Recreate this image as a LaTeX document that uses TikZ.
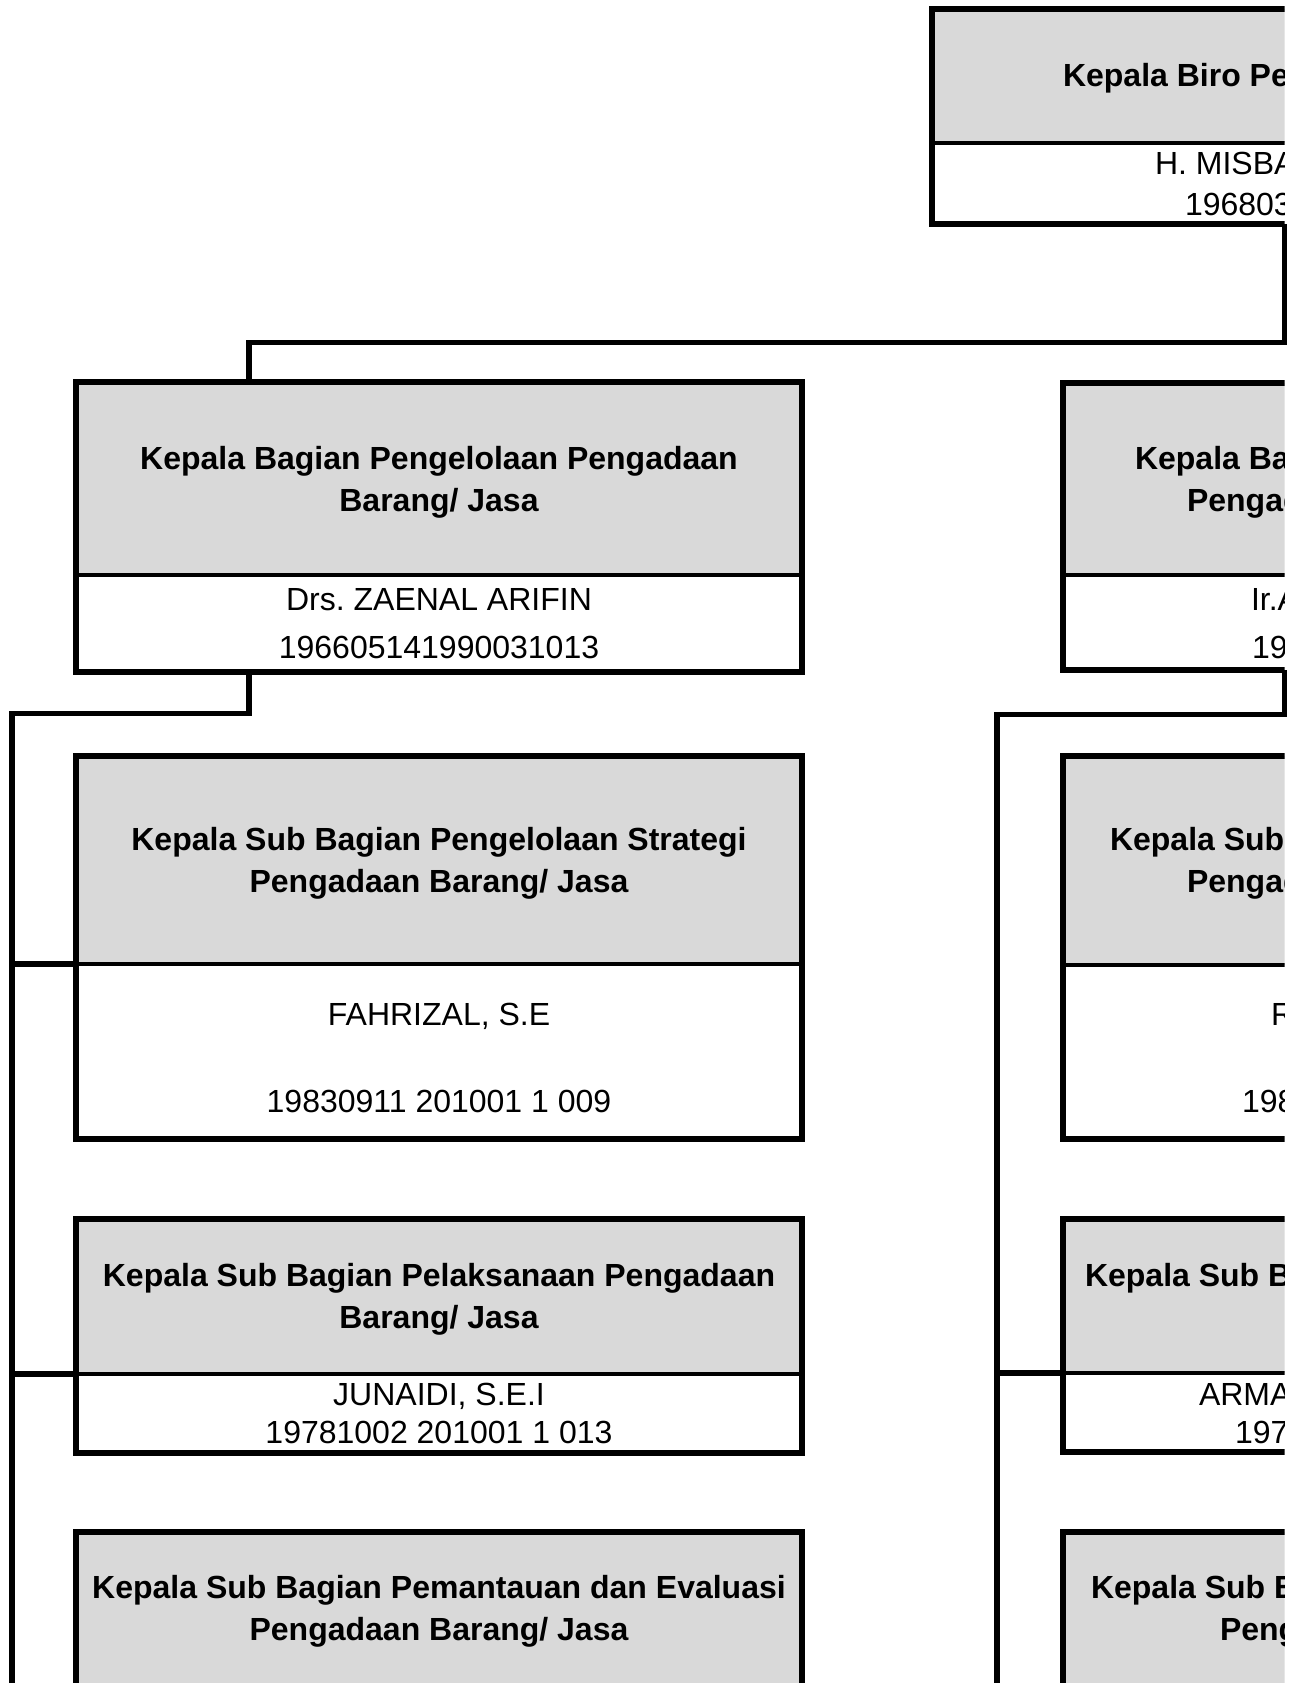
\documentclass[tikz,border=0pt]{standalone}
\usepackage{fontspec}
\setmainfont{Liberation Sans}
\definecolor{hdrgray}{HTML}{D9D9D9}
\frenchspacing
\begin{document}
\begin{tikzpicture}[x=1pt,y=-1pt,
  part/.style={draw=none,inner sep=0pt,outer sep=0pt,anchor=north west,minimum width=#1},
  part/.default=726pt,
  frame/.style={draw=black,line width=5.5pt,line join=miter},
  divider/.style={draw=black,line width=4pt},
  conn/.style={draw=black,line width=5.5pt,line join=miter},
  tl/.style={inner sep=0pt,outer sep=0pt,text height=22.9pt,text depth=0pt,
             font=\fontsize{32}{38}\selectfont\frenchspacing},
  tlb/.style={tl,font=\fontsize{32}{38}\selectfont\frenchspacing\bfseries},
  fr/.style={tl,anchor=west},
  frb/.style={tlb,anchor=west}]
\useasboundingbox[fill=white] (0,0) rectangle (1302,1683);

% named coordinates for connector routes
\coordinate (xTop) at (1284.5,0);
\coordinate (xL) at (249,0);
\coordinate (xLL) at (12,0);
\coordinate (xR) at (997,0);
\coordinate (bus0) at (0,342.5);
\coordinate (bus1) at (0,713.5);
\coordinate (bus2) at (0,714.5);
\coordinate (bottom) at (0,1700);

\begin{scope}
\clip (0,0) rectangle (1284.5,1683);
% ---------- top box ----------
\node[part=700pt,fill=hdrgray,minimum height=134pt] (Th) at (932,9) {};
\node[part=700pt,minimum height=81pt] (Tb) at (Th.south west) {};
% ---------- level 2 ----------
\node[part,fill=hdrgray,minimum height=193pt] (L1h) at (76,382) {};
\node[part,minimum height=97pt] (L1b) at (L1h.south west) {};
\node[part,fill=hdrgray,minimum height=192pt] (R1h) at (1063,383) {};
\node[part,minimum height=95pt] (R1b) at (R1h.south west) {};
% ---------- level 3, left ----------
\node[part,fill=hdrgray,minimum height=208pt] (S1h) at (76,756) {};
\node[part,minimum height=175pt] (S1b) at (S1h.south west) {};
\node[part,fill=hdrgray,minimum height=155pt] (S2h) at (76,1219) {};
\node[part,minimum height=79pt] (S2b) at (S2h.south west) {};
\node[part,fill=hdrgray,minimum height=155pt] (S3h) at (76,1532) {};
\node[part,minimum height=79pt] (S3b) at (S3h.south west) {};
% ---------- level 3, right ----------
\node[part,fill=hdrgray,minimum height=209pt] (RS1h) at (1063,756) {};
\node[part,minimum height=174pt] (RS1b) at (RS1h.south west) {};
\node[part,fill=hdrgray,minimum height=154pt] (RS2h) at (1063,1219) {};
\node[part,minimum height=79pt] (RS2b) at (RS2h.south west) {};
\node[part,fill=hdrgray,minimum height=155pt] (RS3h) at (1063,1532) {};
\node[part,minimum height=79pt] (RS3b) at (RS3h.south west) {};

% frames and dividers
\foreach \n in {T,L1,R1,S1,S2,S3,RS1,RS2,RS3}{
  \draw[frame] (\n h.north west) rectangle (\n b.south east);
  \draw[divider] (\n h.south west) -- (\n h.south east);
}

% ---------- texts ----------
\node[frb] (tT1) at (1063,75) {Kepala Biro Pe};
\node[fr]  (tT2) at (1155,163) {H. MISBA};
\node[fr]  (tT3) at (1185,204) {196803};

\node[tlb] (tL1a) at (439,458) {Kepala Bagian Pengelolaan Pengadaan};
\node[tlb] (tL1b) at (439,500) {Barang/ Jasa};
\node[tl]  (tL1c) at (439,599) {Drs. ZAENAL ARIFIN};
\node[tl]  (tL1d) at (439,647) {196605141990031013};

\node[frb] (tR1a) at (1135,458) {Kepala Ba};
\node[frb] (tR1b) at (1187,500) {Pengad};
\node[fr]  (tR1c) at (1251,599) {Ir.A};
\node[fr]  (tR1d) at (1252,647) {19};

\node[tlb] (tS1a) at (439,839) {Kepala Sub Bagian Pengelolaan Strategi};
\node[tlb] (tS1b) at (439,881) {Pengadaan Barang/ Jasa};
\node[tl]  (tS1c) at (439,1014) {FAHRIZAL, S.E};
\node[tl]  (tS1d) at (439,1101) {19830911 201001 1 009};

\node[frb] (tRS1a) at (1110,839) {Kepala Sub};
\node[frb] (tRS1b) at (1187,881) {Pengad};
\node[fr]  (tRS1c) at (1271,1014) {R};
\node[fr]  (tRS1d) at (1242,1101) {198};

\node[tlb] (tS2a) at (439,1275) {Kepala Sub Bagian Pelaksanaan Pengadaan};
\node[tlb] (tS2b) at (439,1317) {Barang/ Jasa};
\node[tl]  (tS2c) at (439,1394) {JUNAIDI, S.E.I};
\node[tl]  (tS2d) at (439,1432) {19781002 201001 1 013};

\node[frb] (tRS2a) at (1085,1275) {Kepala Sub B};
\node[fr]  (tRS2c) at (1199,1394) {ARMA};
\node[fr]  (tRS2d) at (1235,1432) {197};

\node[tlb] (tS3a) at (439,1587.5) {Kepala Sub Bagian Pemantauan dan Evaluasi};
\node[tlb] (tS3b) at (439,1629.5) {Pengadaan Barang/ Jasa};

\node[frb] (tRS3a) at (1091,1587.5) {Kepala Sub B};
\node[frb] (tRS3b) at (1220,1629.5) {Peng};
\end{scope}

% ---------- connectors ----------
\draw[conn] (Tb.south -| xTop) -- (bus0 -| xTop) -- (bus0 -| xL) -- (L1h.north -| xL);
\draw[conn] (L1b.south -| xL) -- (bus1 -| xL) -- (bus1 -| xLL) -- (bottom -| xLL);
\draw[conn] (S1h.south west -| xLL) -- (S1h.south west);
\draw[conn] (S2h.south west -| xLL) -- (S2h.south west);
\draw[conn] (R1b.south -| xTop) -- (bus2 -| xTop) -- (bus2 -| xR) -- (bottom -| xR);
\draw[conn] (RS2h.south west -| xR) -- (RS2h.south west);
\end{tikzpicture}
\end{document}
